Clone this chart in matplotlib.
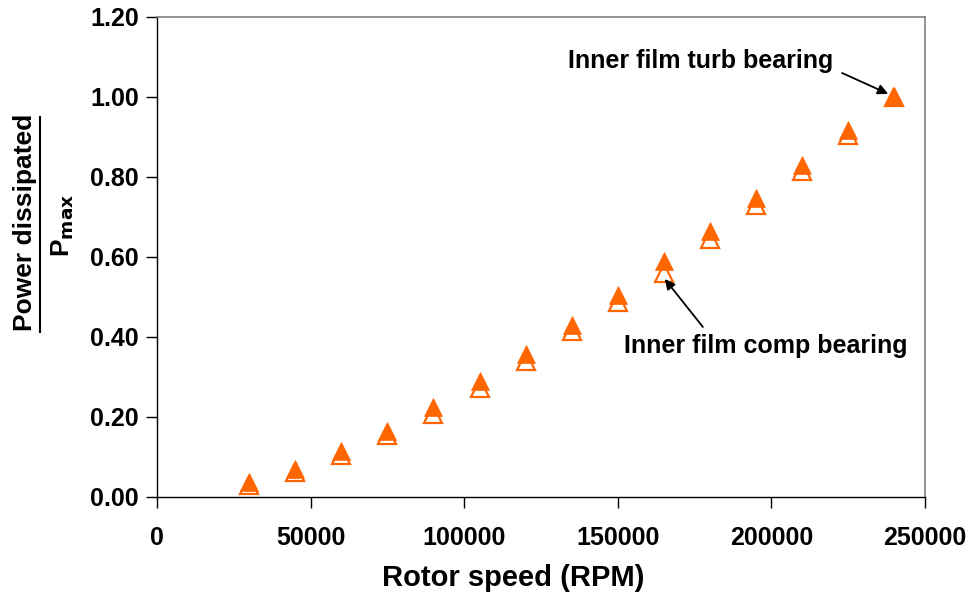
import matplotlib
matplotlib.use("Agg")
import matplotlib.pyplot as plt
from matplotlib.lines import Line2D

rpm = [30000, 45000, 60000, 75000, 90000, 105000, 120000, 135000, 150000,
       165000, 180000, 195000, 210000, 225000, 240000]
turb = [0.038, 0.069, 0.114, 0.166, 0.226, 0.290, 0.357, 0.429, 0.506,
        0.589, 0.665, 0.747, 0.830, 0.917, 1.000]
comp = [0.030, 0.062, 0.105, 0.155, 0.208, 0.272, 0.340, 0.414, 0.487,
        0.561, 0.645, 0.730, 0.815, 0.904, 1.000]

xticks = [0, 50000, 100000, 150000, 200000, 250000]
yticks = [0.0, 0.2, 0.4, 0.6, 0.8, 1.0, 1.2]

orange = "#FF6600"
plt.rcParams['font.family'] = ['Liberation Sans', 'DejaVu Sans']
plt.rcParams['font.weight'] = 'bold'

fig = plt.figure(figsize=(9.71, 5.98), dpi=100)
ax = fig.add_axes([157/971, 1 - 497/598, (925-157)/971, (497-17)/598])

ax.plot(rpm, comp, linestyle='none', marker='^', markersize=13,
        markerfacecolor='white', markeredgecolor=orange, markeredgewidth=1.6, zorder=3)
ax.plot(rpm, turb, linestyle='none', marker='^', markersize=13,
        markerfacecolor=orange, markeredgecolor=orange, markeredgewidth=0.5, zorder=4)

ax.set_xlim(0, 250000)
ax.set_ylim(0, 1.2)
ax.set_xticks(xticks)
ax.set_xticklabels([str(v) for v in xticks])
ax.set_yticks(yticks)
ax.set_yticklabels([f"{v:.2f}" for v in yticks])
ax.tick_params(direction='out', length=8, width=1, labelsize=18)
ax.tick_params(axis='y', pad=5)
ax.tick_params(axis='x', pad=13)
for lab in ax.get_xticklabels() + ax.get_yticklabels():
    lab.set_fontweight('bold')

for s in ['top', 'right']:
    ax.spines[s].set_color('#808080')
    ax.spines[s].set_linewidth(1.2)
for s in ['left', 'bottom']:
    ax.spines[s].set_color('black')
    ax.spines[s].set_linewidth(1.0)

ax.set_xlabel("Rotor speed (RPM)", fontsize=21, fontweight='bold')
ax.xaxis.set_label_coords((513-157)/768, -(578-497)/480)
ax.xaxis.label.set_va('center')

# y label as a fraction
fig.text(25/971, 1 - 222/598, "Power dissipated", rotation=90, fontsize=19,
         fontweight='bold', ha='center', va='center')
fig.add_artist(Line2D([40/971, 40/971], [1 - 117/598, 1 - 332/598],
                      transform=fig.transFigure, color='black', linewidth=1.5))
fig.text(63/971, 1 - 225/598, r"P$_{\mathbf{max}}$", rotation=90, fontsize=19,
         fontweight='bold', ha='center', va='center')

ax.text(176800, 1.09, "Inner film turb bearing", fontsize=18, fontweight='bold',
        ha='center', va='center')
ax.annotate("", xy=(238000, 1.008), xytext=(223000, 1.06),
            arrowprops=dict(arrowstyle='-|>', color='black', lw=1.3,
                            shrinkA=0, shrinkB=0, mutation_scale=15))
ax.text(198200, 0.377, "Inner film comp bearing", fontsize=18, fontweight='bold',
        ha='center', va='center')
ax.annotate("", xy=(165300, 0.545), xytext=(177700, 0.425),
            arrowprops=dict(arrowstyle='-|>', color='black', lw=1.3,
                            shrinkA=0, shrinkB=0, mutation_scale=15))

fig.savefig("out.png", dpi=100)
